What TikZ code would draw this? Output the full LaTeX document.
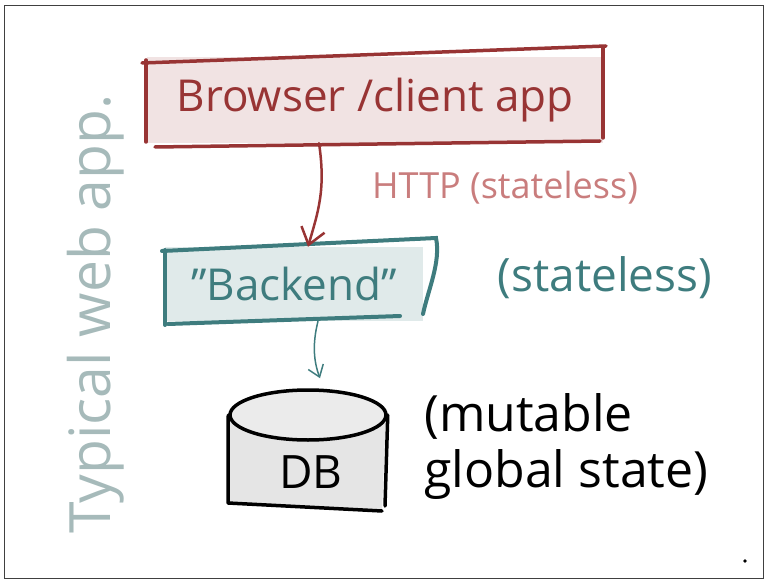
\documentclass[tikz,border=0pt]{standalone}
\usepackage{fontspec}
\setmainfont{Open Sans}
\usepackage{tikz}
\usetikzlibrary{arrows.meta, positioning, shapes.geometric}
\definecolor{sketchred}{RGB}{152,52,52}
\definecolor{httpred}{RGB}{201,125,125}
\definecolor{sketchteal}{RGB}{62,124,126}
\definecolor{sketchgray}{RGB}{166,186,186}

\begin{document}
\begin{tikzpicture}[x=1pt, y=-1pt, auto,
        redbox/.style={rectangle, fill=sketchred!14, text=sketchred, inner sep=0pt, minimum width=456pt, minimum height=86pt, font=\fontsize{44}{50}\selectfont},
        tealbox/.style={rectangle, fill=sketchteal!16, text=sketchteal, inner sep=0pt, minimum width=258pt, minimum height=74pt, font=\fontsize{44}{50}\selectfont},
        redline/.style={draw=sketchred, line width=3.5pt, line cap=round},
        tealline/.style={draw=sketchteal, line width=4pt, line cap=round},
        dbline/.style={draw=black, line width=3.5pt, line cap=round, line join=round},
        note/.style={inner sep=0pt, align=left},
        line/.style={draw, line cap=round}]

        % frame
        \path [use as bounding box] (0,0) rectangle (765,580);
        \draw [black!75, line width=1pt] (4.5,5.5) rectangle (763.5,578.5);

        % nodes
        \node [redbox] (browser) at (375,100) {Browser /client app};
        \node [tealbox] (backend) at (294,284) {\symbol{34}Backend\symbol{34}};
        \node [note, text=sketchteal, font=\fontsize{46}{50}\selectfont] (stateless) at (605,278) {(stateless)};
        \node [note, text=httpred, font=\fontsize{36}{40}\selectfont] (http) at (505,188) {HTTP (stateless)};
        \node [note, font=\fontsize{50}{56}\selectfont, anchor=west] (mutable) at (424,447) {(mutable\\global state)};
        \node [note, text=sketchgray, font=\fontsize{57}{60}\selectfont, rotate=90] (title) at (96,314) {Typical web app.};

        % database
        \fill [gray!20] (230,415) -- (228,503) -- (382,511) -- (386,415) -- cycle;
        \node [ellipse, fill=gray!16, dbline, minimum width=156pt, minimum height=50pt] (dbtop) at (308,415) {};
        \draw [dbline] (dbtop.west) -- (228,503) -- (382,511);
        \draw [dbline] (dbtop.east) -- (385,506);
        \node [font=\fontsize{46}{50}\selectfont] (db) at (311,472) {DB};

        % box outlines
        \draw [redline] (146,60) -- (146,142);
        \draw [redline] (142,63) -- (606,46);
        \draw [redline] (603,47) -- (603,138);
        \draw [redline] (155,147) -- (600,141);
        \draw [tealline] (165,250) -- (165,325);
        \draw [tealline] (162,251) -- (436,238) .. controls (441,262) and (428,290) .. (423,314);
        \draw [tealline] (168,324) -- (400,316);

        % connectors
        \path [line, sketchred, line width=2.5pt, -{Straight Barb[length=16pt, width=24pt, line width=2.5pt]}]
            ([xshift=-56pt]browser.south) .. controls (326,190) and (318,212) .. ([xshift=14pt]backend.north);
        \path [line, sketchteal, line width=1.5pt, -{Straight Barb[length=11pt, width=16pt, line width=1.5pt]}]
            ([xshift=24pt]backend.south) .. controls (312,345) and (314,362) .. ([xshift=12pt, yshift=10pt]dbtop.north);

        \fill (745,561) circle (1.8pt);
    \end{tikzpicture}
\end{document}
